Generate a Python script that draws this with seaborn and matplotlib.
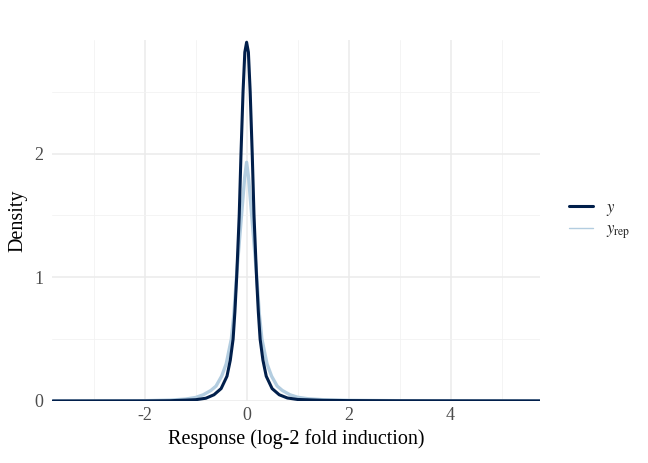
import matplotlib
matplotlib.use("Agg")
import matplotlib.pyplot as plt
import seaborn as sns
import pandas as pd

# density estimates
x_y = [-3.8, -2.0, -1.5, -1.0, -0.8, -0.64, -0.5, -0.385, -0.32, -0.265, -0.23, -0.195, -0.17, -0.145,
       -0.11, -0.07, -0.035, 0.0, 0.035, 0.07, 0.11, 0.145, 0.17, 0.195, 0.23, 0.265, 0.32, 0.385,
       0.5, 0.64, 0.8, 1.0, 1.5, 2.0, 3.0, 4.0, 5.75]
dens_y = [0.0, 0.0005, 0.002, 0.01, 0.022, 0.05, 0.1, 0.2, 0.33, 0.5, 0.72, 1.0, 1.25, 1.5,
          2.0, 2.5, 2.82, 2.9, 2.82, 2.5, 2.0, 1.5, 1.25, 1.0, 0.72, 0.5, 0.33, 0.2,
          0.1, 0.05, 0.024, 0.012, 0.005, 0.003, 0.0015, 0.001, 0.0005]

x_rep = [-3.8, -2.0, -1.5, -1.2, -1.0, -0.85, -0.7, -0.6, -0.49, -0.4, -0.3, -0.25, -0.2, -0.14,
         -0.08, -0.04, 0.0, 0.04, 0.08, 0.14, 0.2, 0.25, 0.3, 0.4, 0.49, 0.6, 0.7, 0.85, 1.0,
         1.2, 1.5, 2.0, 3.0, 4.0, 5.75]
dens_rep = [0.0, 0.002, 0.007, 0.015, 0.028, 0.05, 0.085, 0.12, 0.2, 0.3, 0.5, 0.7, 1.0, 1.3,
            1.6, 1.8, 1.93, 1.8, 1.6, 1.3, 1.0, 0.7, 0.5, 0.3, 0.2, 0.12, 0.085, 0.05, 0.03,
            0.018, 0.01, 0.005, 0.002, 0.001, 0.0005]

x_ticks = [-2, 0, 2, 4]
y_ticks = [0, 1, 2]

sns.set_style("white")
plt.rcParams["font.family"] = ["Liberation Serif", "DejaVu Serif"]
plt.rcParams["mathtext.fontset"] = "stix"
plt.rcParams["axes.unicode_minus"] = False

fig = plt.figure(figsize=(6.48, 4.63), dpi=100)
ax = fig.add_axes([0.080, 0.134, 0.753, 0.780])

df_rep = pd.DataFrame({"x": x_rep, "d": dens_rep})
df_y = pd.DataFrame({"x": x_y, "d": dens_y})
sns.lineplot(data=df_rep, x="x", y="d", color="#b3cde0", lw=2.4, ax=ax,
             label=r"$y_{\mathrm{rep}}$", zorder=3)
sns.lineplot(data=df_y, x="x", y="d", color="#011f4b", lw=2.2, ax=ax,
             label=r"$y$", zorder=4)

ax.set_xlim(-3.82, 5.75)
ax.set_ylim(0, 2.92)
ax.set_xticks(x_ticks)
ax.set_yticks(y_ticks)
ax.set_xticks([-3, -1, 1, 3, 5], minor=True)
ax.set_yticks([0.5, 1.5, 2.5], minor=True)
ax.grid(True, which="major", color="#ebebeb", lw=1.1)
ax.grid(True, which="minor", color="#f2f2f2", lw=0.6)
ax.set_axisbelow(True)
for s in ax.spines.values():
    s.set_visible(False)
ax.tick_params(length=0, labelsize=13, labelcolor="#4d4d4d", pad=4)
ax.tick_params(axis="y", pad=6)
ax.set_xlabel("Response (log-2 fold induction)", fontsize=14.5, color="black")
ax.set_ylabel("Density", fontsize=14.5, color="black", labelpad=5)

h, l = ax.get_legend_handles_labels()
leg = ax.legend(h[::-1], l[::-1], loc="center left", bbox_to_anchor=(1.03, 0.5),
                frameon=False, fontsize=12, handlelength=1.4, labelspacing=0.2)
leg.get_lines()[1].set_linewidth(1.0)

fig.savefig("out.png", dpi=100)
